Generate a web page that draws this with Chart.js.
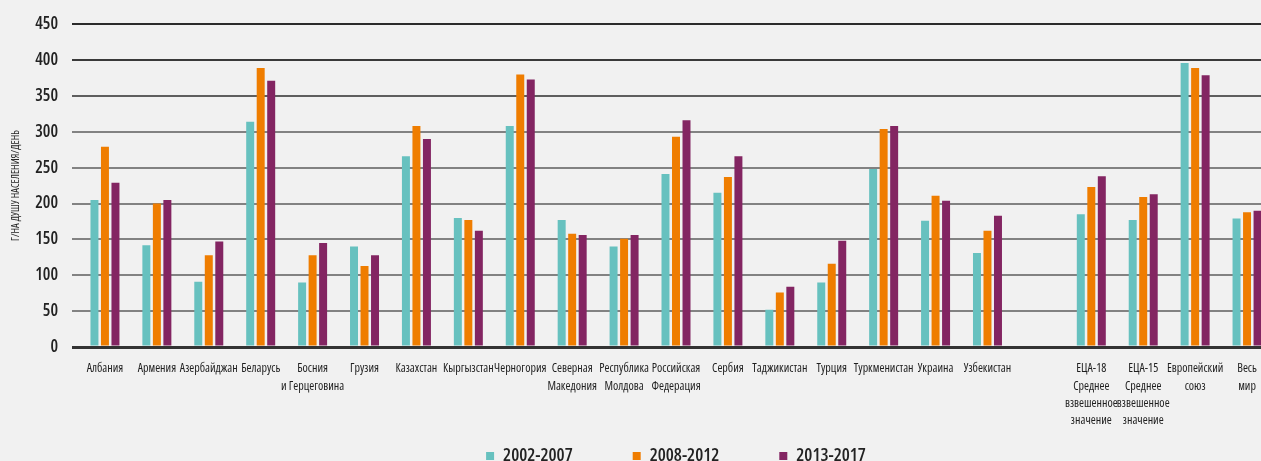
<!DOCTYPE html>
<html>
<head>
<meta charset="utf-8">
<script src="https://cdn.jsdelivr.net/npm/chart.js@4.4.1/dist/chart.umd.min.js"></script>
<style>
  html, body { margin: 0; padding: 0; background: #f1f1f1; overflow: hidden; width: 1261px; height: 461px; }
  #chart { display: block; }
</style>
</head>
<body>
<canvas id="chart" width="1273" height="475"></canvas>
<script>
const labels = [
    'Албания', 'Армения', 'Азербайджан', 'Беларусь', ['Босния', 'и Герцеговина'], 'Грузия',
    'Казахстан', 'Кыргызстан', 'Черногория', ['Северная', 'Македония'], ['Республика', 'Молдова'],
    ['Российская', 'Федерация'], 'Сербия', 'Таджикистан', 'Турция', 'Туркменистан', 'Украина',
    'Узбекистан', '', ['ЕЦА-18', 'Среднее', 'взвешенное', 'значение'],
    ['ЕЦА-15', 'Среднее', 'взвешенное', 'значение'], ['Европейский', 'союз'], ['Весь', 'мир']
];
const v2002 = [205, 142, 91, 314, 90, 140, 266, 180, 308, 177, 140, 241, 215, 52, 90, 248, 176, 131, null, 185, 177, 396, 179];
const v2008 = [279, 200, 128, 389, 128, 113, 308, 177, 380, 158, 151, 293, 237, 76, 116, 304, 211, 162, null, 223, 209, 389, 188];
const v2013 = [229, 205, 147, 371, 145, 128, 290, 162, 373, 156, 156, 316, 266, 84, 148, 308, 204, 183, null, 238, 213, 379, 190];
const seriesNames = ['2002-2007', '2008-2012', '2013-2017'];
const yTicks = [0, 50, 100, 150, 200, 250, 300, 350, 400, 450];

// narrow face: Open Sans with its width axis pulled in
const fontFamily = "'Open Sans', 'Roboto Condensed', sans-serif";

function gridColor(ctx) {
    const v = ctx.tick ? ctx.tick.value : 0;
    if (v === 0) return '#333';
    if (v === 450) return '#2b2b2b';
    if (v === 400) return '#3a3a3a';
    if (v === 350) return '#5e5e5e';
    return '#828282';
}

// x labels run below the short axis box, so don't clip them to it
const noLabelClip = {
    id: 'noLabelClip',
    afterLayout(chart) {
        chart.scales.x._computeLabelArea = function () { return undefined; };
    }
};

const ctx = document.getElementById('chart').getContext('2d');
const chart = new Chart(ctx, {
    type: 'bar',
    data: {
        labels: labels,
        datasets: [
            { label: seriesNames[0], data: v2002, backgroundColor: '#67c1bf' },
            { label: seriesNames[1], data: v2008, backgroundColor: '#ef7d00' },
            { label: seriesNames[2], data: v2013, backgroundColor: '#832562' }
        ]
    },
    plugins: [noLabelClip],
    options: {
        responsive: false,
        animation: false,
        layout: { padding: { top: 24, left: 0, right: 0, bottom: 0 } },
        datasets: {
            bar: { categoryPercentage: 0.607, barPercentage: 0.76 }
        },
        plugins: {
            legend: {
                position: 'bottom',
                fullSize: false,
                labels: {
                    boxWidth: 8,
                    boxHeight: 8,
                    padding: 60,
                    color: '#222',
                    font: { family: fontFamily, size: 18, weight: '600 condensed' }
                }
            },
            tooltip: { enabled: false }
        },
        scales: {
            x: {
                grid: { display: false },
                border: { color: '#333', width: 3 },
                ticks: {
                    autoSkip: false,
                    maxRotation: 0,
                    minRotation: 0,
                    padding: 5,
                    color: '#1e1e1e',
                    font: { family: fontFamily, size: 12, weight: 'condensed', lineHeight: 1.45 }
                },
                afterFit: function (axis) { axis.height = 40; }
            },
            y: {
                min: 0,
                max: 450,
                afterBuildTicks: function (axis) { axis.ticks = yTicks.map(v => ({ value: v })); },
                grid: {
                    color: gridColor,
                    lineWidth: c => (c.tick && c.tick.value === 0 ? 3 : 2),
                    tickLength: 7,
                    drawTicks: true
                },
                border: { display: false },
                ticks: {
                    padding: 14,
                    color: '#222',
                    font: { family: fontFamily, size: 17, weight: '600 condensed' }
                },
                title: {
                    display: true,
                    text: 'Г/НА ДУШУ НАСЕЛЕНИЯ/ДЕНЬ',
                    color: '#222',
                    padding: { top: 10, bottom: 0 },
                    font: { family: fontFamily, size: 10.5, weight: 'condensed' }
                },
                afterFit: function (axis) { axis.width = 79; }
            }
        }
    }
});
</script>
</body>
</html>
